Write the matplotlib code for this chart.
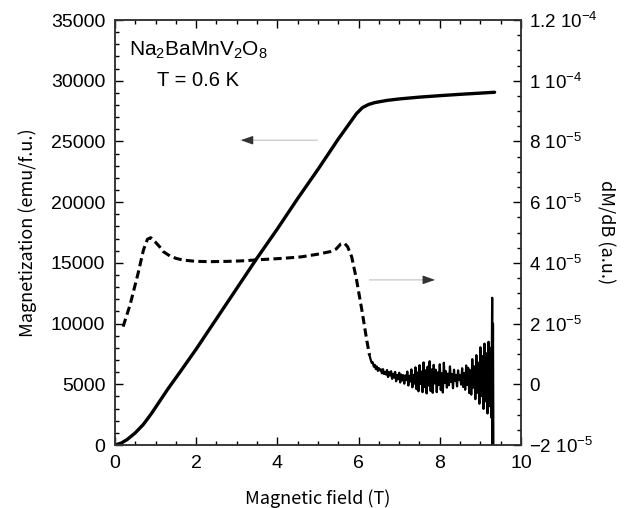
import numpy as np
import matplotlib.pyplot as plt
from matplotlib.ticker import MultipleLocator, FixedLocator

plt.rcParams['font.family'] = ['Liberation Sans', 'DejaVu Sans']
plt.rcParams['mathtext.fontset'] = 'custom'
plt.rcParams['mathtext.rm'] = 'Liberation Sans'
plt.rcParams['mathtext.it'] = 'Liberation Sans'

# magnetization curve
campo_m = [0, 0.15, 0.3, 0.5, 0.7, 0.9, 1.1, 1.3, 1.6, 2.0, 2.5, 3.0, 3.5, 4.0, 4.5,
           5.0, 5.5, 5.8, 5.95, 6.1, 6.25, 6.4, 6.7, 7.0, 7.5, 8.0, 8.5, 9.0, 9.35]
magnet = [0, 150, 450, 1000, 1700, 2600, 3600, 4600, 6000, 7900, 10400, 12900, 15400,
          17800, 20300, 22700, 25200, 26600, 27300, 27800, 28050, 28200, 28380, 28500,
          28650, 28770, 28880, 28980, 29050]

# derivative dM/dB, smooth part (units of 1e-6)
campo_d = [0.2, 0.37, 0.57, 0.70, 0.80, 0.88, 0.985, 1.1, 1.19, 1.35, 1.5, 1.68, 2.0,
           2.34, 2.8, 3.2, 3.5, 4.15, 4.6, 4.97, 5.3, 5.45, 5.56, 5.65, 5.73, 5.83,
           5.95, 6.08, 6.2, 6.27]
dmdb = [19.0, 26.1, 36.6, 44.2, 47.8, 48.3, 47.0, 45.3, 43.7, 42.3, 41.5, 40.9, 40.5,
        40.4, 40.5, 40.7, 41.0, 41.5, 42.0, 42.8, 43.7, 44.6, 46.2, 46.5, 45.3, 42.0,
        34.4, 24.5, 14.6, 9.5]

# noisy part above saturation, every 0.025 T from 6.3 T (units of 1e-6)
ruido = [8.0, 7.0, 7.2, 5.8, 6.4, 5.0, 5.9, 4.4, 5.3, 4.6, 4.9, 3.6, 5.0, 3.4, 4.1, 3.2,
         4.7, 2.4, 4.0, 2.9, 4.3, 1.8, 3.5, 2.2, 4.1, 1.0, 3.1, 1.7, 3.8, 0.6, 3.2, 1.3,
         3.0, 0.2, 2.9, 1.4, 4.2, -0.4, 2.8, 0.9, 4.9, -1.0, 3.1, 0.2, 5.6, -1.6,
         3.9, -2.3, 6.3, 0.1, 4.2, -2.6, 7.2, -0.9, 4.6, -3.0, 5.8, -0.4, 7.6, -2.2,
         4.9, -2.8, 6.4, 0.3, 4.8, -2.6, 3.9, -0.2, 6.6, -1.9, 3.6, -2.7, 7.1, 0.4,
         4.3, -1.1, 3.5, -0.3, 5.9, 0.8, 3.4, -1.3, 4.8, 1.2, 3.1, -0.7, 4.6, 1.4,
         3.0, -0.1, 5.3, -0.9, 3.7, -1.8, 6.2, -0.2, 5.4, -2.9, 4.6, -3.4, 8.3, -1.1,
         5.9, -4.9, 9.6, -2.8, 7.1, -6.4, 12.2, -3.9, 9.3, -8.1, 13.4, -5.6, 10.2,
         -9.6, 14.0, -7.2, 12.0]
campo_fin = [9.27, 9.29, 9.30, 9.31, 9.32]
ruido_fin = [-11.0, 28.5, -20.5, 20.0, -20.5]

etiquetas_der = [r'$-$2 10$^{-5}$', '0', r'2 10$^{-5}$', r'4 10$^{-5}$', r'6 10$^{-5}$',
                 r'8 10$^{-5}$', r'1 10$^{-4}$', r'1.2 10$^{-4}$']

campo_r = np.concatenate([[campo_d[-1]], 6.3 + 0.025 * np.arange(len(ruido)), campo_fin])
valor_r = np.concatenate([[dmdb[-1]], ruido, ruido_fin])

fig = plt.figure(figsize=(6.29, 5.08), dpi=100)
ax = fig.add_axes([0.1828, 0.124, 0.6455, 0.8366])
ax2 = ax.twinx()

ax.plot(campo_m, magnet, color='black', lw=2.4, solid_capstyle='round')
ax2.plot(campo_d, np.array(dmdb) * 1e-6, color='black', lw=2.2,
         linestyle=(0, (2.7, 1.4)))
ax2.plot(campo_r, valor_r * 1e-6, color='black', lw=1.6)

ax.set_xlim(0, 10)
ax.set_ylim(0, 35000)
ax2.set_ylim(-2e-5, 1.2e-4)

ax.xaxis.set_major_locator(MultipleLocator(2))
ax.xaxis.set_minor_locator(MultipleLocator(0.5))
ax.yaxis.set_major_locator(MultipleLocator(5000))
ax.yaxis.set_minor_locator(MultipleLocator(1000))
ax2.yaxis.set_major_locator(FixedLocator(np.arange(-2e-5, 1.21e-4, 2e-5)))
ax2.yaxis.set_minor_locator(MultipleLocator(5e-6))
ax2.set_yticklabels(etiquetas_der)

ax.tick_params(which='both', direction='in', top=True, labelsize=14, width=1)
ax.tick_params(which='major', length=6, pad=7)
ax.tick_params(which='minor', length=3)
ax2.tick_params(which='both', direction='in', labelsize=13.5, width=1)
ax2.tick_params(which='major', length=6, pad=6)
ax2.tick_params(which='minor', length=3)
for a in (ax, ax2):
    for s in a.spines.values():
        s.set_linewidth(1.1)
        s.set_color('#333333')

ax.set_xlabel('Magnetic field (T)', fontsize=13, labelpad=13,
              family=['Noto Sans CJK JP', 'DejaVu Sans'])
ax.set_ylabel('Magnetization (emu/f.u.)', fontsize=13, labelpad=10,
              family=['Noto Sans CJK JP', 'DejaVu Sans'])
ax2.set_ylabel('dM/dB (a.u.)', fontsize=13, rotation=270, labelpad=12,
               family=['Noto Sans CJK JP', 'DejaVu Sans'])

ax.text(2.05, 32500, r'Na$_2$BaMnV$_2$O$_8$', fontsize=15, ha='center', va='center')
ax.text(2.05, 30000, 'T = 0.6 K', fontsize=14.5, ha='center', va='center')

# arrows
ax.annotate('', xy=(3.03, 25100), xytext=(5.05, 25100),
            arrowprops=dict(arrowstyle='-', color='#cccccc', lw=1))
ax.annotate('', xy=(3.03, 25100), xytext=(3.3, 25100),
            arrowprops=dict(arrowstyle='-|>,head_length=0.7,head_width=0.25',
                            color='#333333', lw=1))
ax.annotate('', xy=(7.95, 13600), xytext=(6.2, 13600),
            arrowprops=dict(arrowstyle='-', color='#cccccc', lw=1))
ax.annotate('', xy=(7.95, 13600), xytext=(7.7, 13600),
            arrowprops=dict(arrowstyle='-|>,head_length=0.7,head_width=0.25',
                            color='#333333', lw=1))

fig.savefig('out.png', dpi=100)
